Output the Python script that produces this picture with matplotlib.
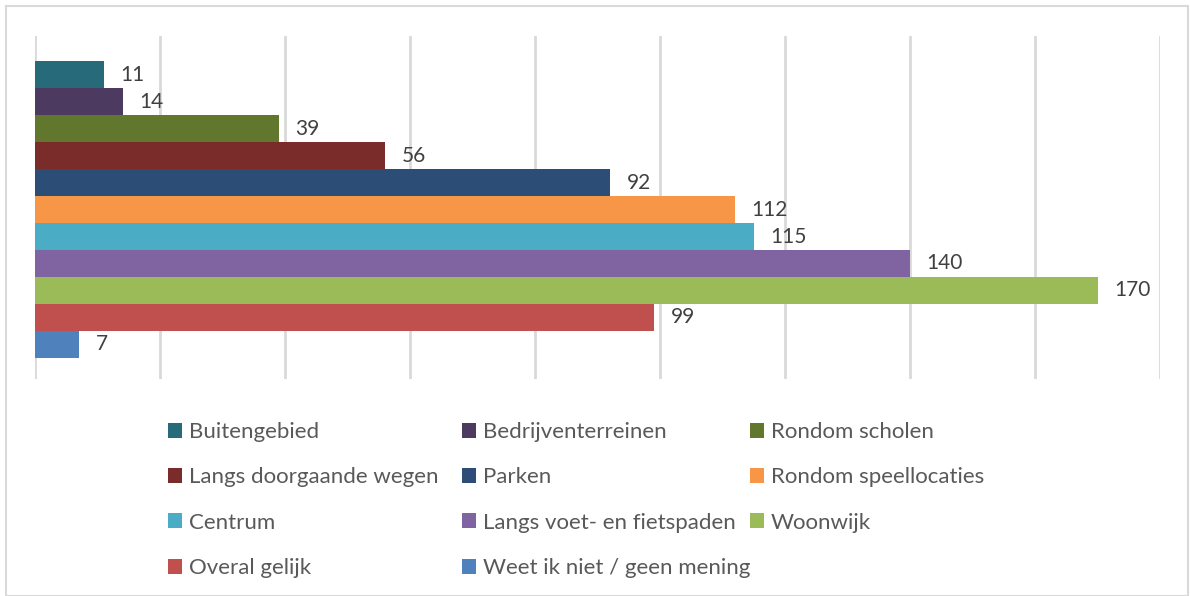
import matplotlib.pyplot as plt
from matplotlib.patches import Rectangle, Patch

categories = ["Buitengebied", "Bedrijventerreinen", "Rondom scholen",
              "Langs doorgaande wegen", "Parken", "Rondom speellocaties",
              "Centrum", "Langs voet- en fietspaden", "Woonwijk",
              "Overal gelijk", "Weet ik niet / geen mening"]
values = [11, 14, 39, 56, 92, 112, 115, 140, 170, 99, 7]
colors = ["#276A7A", "#4D3A61", "#61772E", "#7A2C2B", "#2C4D75", "#F79646",
          "#4BACC6", "#8064A2", "#9BBB59", "#C0504D", "#4F81BD"]

plt.rcParams['font.family'] = ['Lato', 'DejaVu Sans']

W, H = 1190, 596
fig = plt.figure(figsize=(W / 100, H / 100), dpi=100)

# outer frame
fig.patches.append(Rectangle((6 / W, 0), (1182 / W), 1 - 6 / H,
                             transform=fig.transFigure, fill=False,
                             edgecolor="#D9D9D9", linewidth=1.5))

ax = fig.add_axes([35 / W, 1 - 379 / H, (1160 - 35) / W, (379 - 36) / H])
pos = list(range(len(values)))
ax.barh(pos, values, height=1.0, color=colors, zorder=3)
ax.set_xlim(0, 180)
ax.set_ylim(11.28, -1.43)
ax.set_xticks(range(0, 181, 20))
ax.grid(axis="x", color="#D9D9D9", linewidth=2, zorder=0)
ax.tick_params(length=0, labelbottom=False, labelleft=False)
for s in ax.spines.values():
    s.set_visible(False)

for p, v in zip(pos, values):
    ax.annotate(str(v), (v, p), xytext=(12, 0), textcoords="offset points",
                va="center", ha="left", fontsize=15, color="#404040")

# legend filled row by row, columns at fixed x like the original
col_x = [148, 442, 730]
for c in range(3):
    idx = list(range(c, len(categories), 3))
    handles = [Patch(facecolor=colors[i], edgecolor="none") for i in idx]
    fig.legend(handles, [categories[i] for i in idx], loc="upper left",
               bbox_to_anchor=(col_x[c] / W, 1 - 402 / H), frameon=False,
               fontsize=16, labelcolor="#595959", handlelength=0.65,
               handleheight=0.65, handletextpad=0.3, labelspacing=1.14)

fig.savefig("out.png", dpi=100)
